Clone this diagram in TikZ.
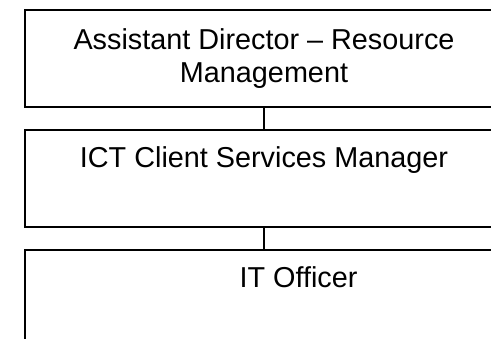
\documentclass[tikz,border=0pt]{standalone}
\usepackage{fontspec}
\setmainfont{Liberation Sans}
\usepackage{tikz}
\usetikzlibrary{positioning}
\tikzstyle{role_line}=[draw=black, line width=1pt]
\tikzstyle{role_box}=[rectangle, role_line, anchor=north west, align=center,
    inner sep=0pt, minimum height=48.5pt,
    font=\fontsize{14.4}{16.6}\selectfont]

\begin{document}
\begin{tikzpicture}[x=0.5pt, y=-0.5pt]
\useasboundingbox (0,0) rectangle (491,338);
\clip (0,0) rectangle (491,338);
\node[role_box, minimum width=239pt] (adrm) at (24,9){Assistant Director – Resource\\Management};
\node[role_box, minimum width=239pt] (icsm) at (24,129){ICT Client Services Manager\\\strut};
\node[role_box, minimum width=273.5pt] (ito) at (24,249){IT Officer\\\strut};
\draw[role_line](adrm) -- (icsm);
\draw[role_line](icsm.south) -- (icsm.south |- ito.north);
\end{tikzpicture}
\end{document}
